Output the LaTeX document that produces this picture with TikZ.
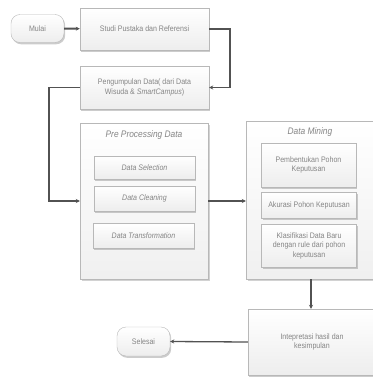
\documentclass[tikz,border=0pt]{standalone}
\usepackage{fontspec}
\setmainfont{Liberation Sans}[FakeStretch=0.88]
\usetikzlibrary{shadows, arrows.meta}
\definecolor{boxline}{gray}{0.72}
\definecolor{boxtext}{gray}{0.52}
\definecolor{wire}{gray}{0.32}

\tikzset{
    proc/.style={draw=boxline, top color=white, bottom color=black!7,
        drop shadow={shadow xshift=1.2pt, shadow yshift=-1.8pt, fill=black!40},
        text=boxtext, align=center, inner sep=1pt,
        font=\fontsize{8}{9.5}\selectfont},
    term/.style={proc, rounded corners=9pt},
    group/.style={draw=boxline, top color=white, bottom color=black!6,
        drop shadow={shadow xshift=1.5pt, shadow yshift=-2.2pt, fill=black!35}},
    grouptitle/.style={text=boxtext, font=\fontsize{9.5}{11}\selectfont\itshape},
    flow/.style={draw=wire, line width=1.3pt, -{Stealth[length=4pt,width=4pt]}}
}

\begin{document}
\begin{tikzpicture}[x=1pt, y=-1pt]
    \useasboundingbox (0,0) rectangle (372,377);

    % start and first steps
    \node [term, minimum width=53pt, minimum height=28pt] (mulai) at (37.5,28.5) {Mulai};
    \node [proc, minimum width=129pt, minimum height=42pt] (studi) at (144.5,29) {Studi Pustaka dan Referensi};
    \node [proc, minimum width=129pt, minimum height=43pt] (kumpul) at (144.5,87.5)
        {Pengumpulan Data( dari Data\\Wisuda \& \textit{SmartCampus})};

    % pre processing
    \node [group, minimum width=128pt, minimum height=156pt] (prep) at (144,201) {};
    \node [grouptitle] (preptitle) at (144,135) {Pre Processing Data};
    \node [proc, minimum width=101pt, minimum height=23pt, font=\fontsize{8}{9.5}\selectfont\itshape] (select) at (144.5,167.5) {Data Selection};
    \node [proc, minimum width=101pt, minimum height=25pt, font=\fontsize{8}{9.5}\selectfont\itshape] (clean) at (144.5,198.5) {Data Cleaning};
    \node [proc, minimum width=101pt, minimum height=25pt, font=\fontsize{8}{9.5}\selectfont\itshape] (transform) at (143.5,235.5) {Data Transformation};

    % data mining
    \node [group, minimum width=130pt, minimum height=158pt] (mining) at (311,200) {};
    \node [grouptitle] (miningtitle) at (310,132) {Data Mining};
    \node [proc, minimum width=95pt, minimum height=44pt] (pohon) at (308.5,165) {Pembentukan Pohon\\Keputusan};
    \node [proc, minimum width=95pt, minimum height=26pt] (akurasi) at (309,205) {Akurasi Pohon Keputusan};
    \node [proc, minimum width=95pt, minimum height=43pt] (klasifikasi) at (309,245.5)
        {Klasifikasi Data Baru\\dengan rule dari pohon\\keputusan};

    % end
    \node [proc, minimum width=128pt, minimum height=66pt] (interpretasi) at (312,342)
        {Intepretasi hasil dan\\kesimpulan};
    \node [term, minimum width=53pt, minimum height=29pt] (selesai) at (143.5,341.5) {Selesai};

    \coordinate (turnA) at (230,29);
    \coordinate (turnB) at (49,87.5);

    \draw [flow, line width=2pt] (mulai) -- (studi);
    \draw [flow] (studi.east) -- (turnA) |- (kumpul.east);
    \draw [flow] (kumpul.west) -- (turnB) |- (prep.west);
    \draw [flow] (prep.east) -- (prep.east -| mining.west);
    \draw [flow] (mining.south) -- (mining.south |- interpretasi.north);
    \draw [flow] (interpretasi.west) -- (selesai.east);
\end{tikzpicture}
\end{document}
